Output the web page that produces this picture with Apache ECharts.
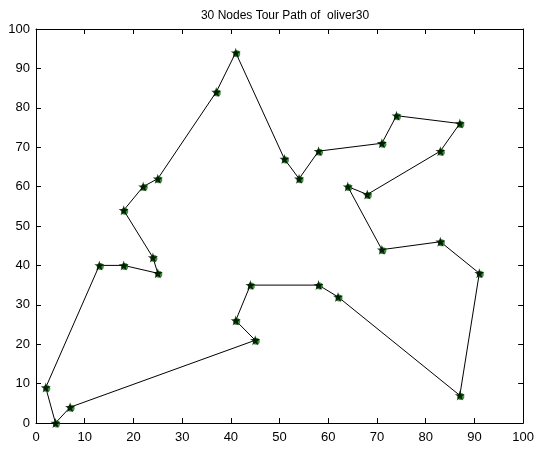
<!DOCTYPE html>
<html>
<head>
<meta charset="utf-8">
<script src="https://cdn.jsdelivr.net/npm/echarts@6/dist/echarts.min.js"></script>
<style>
  html, body { margin: 0; padding: 0; background: #fff; }
  #chart { width: 537px; height: 450px; }
</style>
</head>
<body>
<div id="chart"></div>
<script>
// Oliver30 city coordinates, listed in tour order
const tourX = [41, 37, 25, 22, 18, 24, 25, 18, 13, 2, 4, 7, 45, 41, 44, 58, 62, 87, 91, 83, 71, 64, 68, 83, 87, 74, 71, 58, 54, 51];
const tourY = [94, 84, 62, 60, 54, 42, 38, 40, 40, 9, 0, 4, 21, 26, 35, 35, 32, 7, 38, 46, 44, 60, 58, 69, 76, 78, 71, 69, 62, 67];
const axisTicks = [0, 10, 20, 30, 40, 50, 60, 70, 80, 90, 100];
const titleText = '30 Nodes Tour Path of  oliver30';

const nodes = tourX.map((x, i) => [x, tourY[i]]);
// close the tour back to the starting city
const path = nodes.concat([nodes[0]]);

const starPath = 'path://M50,0 L61.8,35.3 L99,35.3 L69,57.3 L80.3,92.7 L50,71 L19.7,92.7 L31,57.3 L1,35.3 L38.2,35.3 Z';

const FONT = '"Liberation Sans", Arial, sans-serif';

const axisBase = {
  type: 'value',
  min: axisTicks[0],
  max: axisTicks[axisTicks.length - 1],
  interval: 10,
  axisLine: { show: true, onZero: false, lineStyle: { color: '#000', width: 1 } },
  axisTick: { show: true, inside: true, length: 5, lineStyle: { color: '#000', width: 1 } },
  splitLine: { show: false }
};

const chart = echarts.init(document.getElementById('chart'), null, { renderer: 'canvas' });
chart.setOption({
  animation: false,
  backgroundColor: '#fff',
  title: {
    text: titleText,
    left: 280,
    textAlign: 'center',
    top: 5,
    textStyle: { fontFamily: FONT, fontSize: 12, fontWeight: 'normal', color: '#000' }
  },
  grid: { left: 36, right: 12, top: 29, bottom: 27 },
  xAxis: [
    Object.assign({}, axisBase, {
      position: 'bottom',
      axisLabel: { show: true, margin: 8, color: '#000', fontFamily: FONT, fontSize: 13 }
    }),
    Object.assign({}, axisBase, {
      position: 'top',
      axisLabel: { show: false }
    })
  ],
  yAxis: [
    Object.assign({}, axisBase, {
      position: 'left',
      axisLabel: { show: true, margin: 6, color: '#000', fontFamily: FONT, fontSize: 13 }
    }),
    Object.assign({}, axisBase, {
      position: 'right',
      axisLabel: { show: false }
    })
  ],
  series: [
    {
      type: 'line',
      data: path,
      symbol: 'none',
      lineStyle: { color: '#000', width: 1 },
      z: 2
    },
    {
      type: 'scatter',
      data: nodes,
      symbol: 'circle',
      symbolSize: 7,
      symbolOffset: [1, 1],
      itemStyle: { color: '#008000' },
      z: 3
    },
    {
      type: 'scatter',
      data: nodes,
      symbol: starPath,
      symbolSize: 10,
      itemStyle: { color: '#000' },
      z: 4
    }
  ]
});
</script>
</body>
</html>
